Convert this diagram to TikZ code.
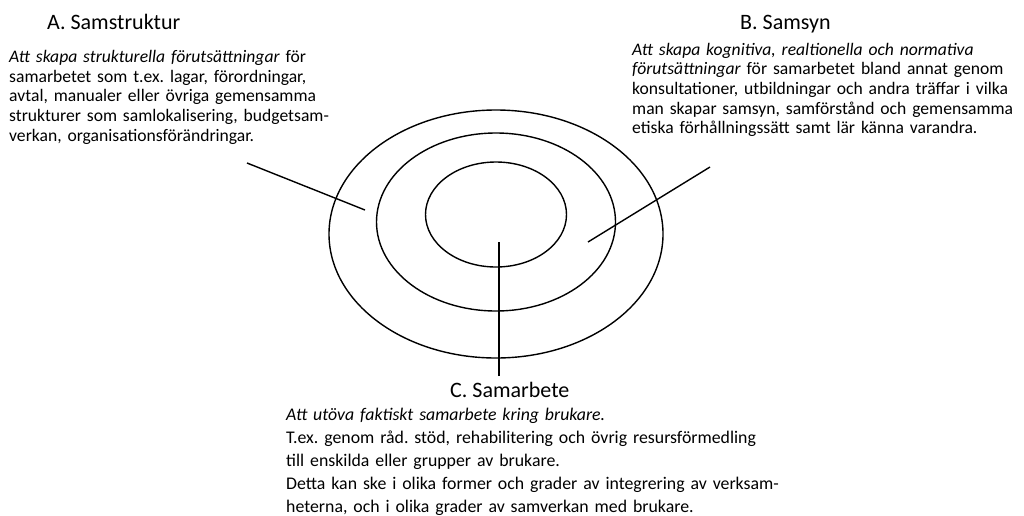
\documentclass[tikz,border=0pt]{standalone}
\usepackage{fontspec}
\setmainfont{Carlito}
\usepackage{tikz}
\usetikzlibrary{positioning}
\frenchspacing

\tikzset{
  head/.style={anchor=base west, inner sep=0pt, font=\fontsize{22}{26}\selectfont},
  body/.style={anchor=base west, inner sep=0pt, text width=500pt, align=left, font=\fontsize{17.6}{19.7}\selectfont},
  bodywide/.style={body, font=\fontsize{17.8}{23}\selectfont},
  ring/.style={line width=1.4pt},
  pointer/.style={line width=1.4pt}
}

\begin{document}
\begin{tikzpicture}[x=1pt, y=-1pt]
\useasboundingbox (0,0) rectangle (1024,515);
% Rings
\foreach \cy/\rx/\ry in {234/167/124, 222/119.5/89, 214.5/70.5/52.5}{
\draw[ring] (496,\cy) ellipse [x radius=\rx, y radius=\ry];
}
% Headings
\node[head] (headA) at (47,29) {A. Samstruktur};
\node[head] (headB) at (740,29) {B. Samsyn};
\node[head] (headC) at (450,397) {C. Samarbete};
% Texts
\node[body] (textA) at (9,62.5) {\textit{Att skapa strukturella förutsättningar} för\\
samarbetet som t.ex. lagar, förordningar,\\
avtal, manualer eller övriga gemensamma\\
strukturer som samlokalisering, budgetsam-\\
verkan, organisationsförändringar.};
\node[body] (textB) at (632,55) {\textit{Att skapa kognitiva, realtionella och normativa}\\
\textit{förutsättningar} för samarbetet bland annat genom\\
konsultationer, utbildningar och andra träffar i vilka\\
man skapar samsyn, samförstånd och gemensamma\\
etiska förhållningssätt samt lär känna varandra.};
\node[bodywide] (textC) at (286,420) {\textit{Att utöva faktiskt samarbete kring brukare.}\\
T.ex. genom råd. stöd, rehabilitering och övrig resursförmedling\\
till enskilda eller grupper av brukare.\\
Detta kan ske i olika former och grader av integrering av verksam-\\
heterna, och i olika grader av samverkan med brukare.};
% Pointers
\coordinate (fromA) at (247,163);
\coordinate (toA) at (365,210);
\coordinate (fromB) at (710,167);
\coordinate (toB) at (588,242);
\coordinate (fromC) at (499,376);
\coordinate (toC) at (499,242);
\draw[pointer] (fromA) -- (toA);
\draw[pointer] (fromB) -- (toB);
\draw[pointer] (fromC) -- (toC);
\end{tikzpicture}
\end{document}
